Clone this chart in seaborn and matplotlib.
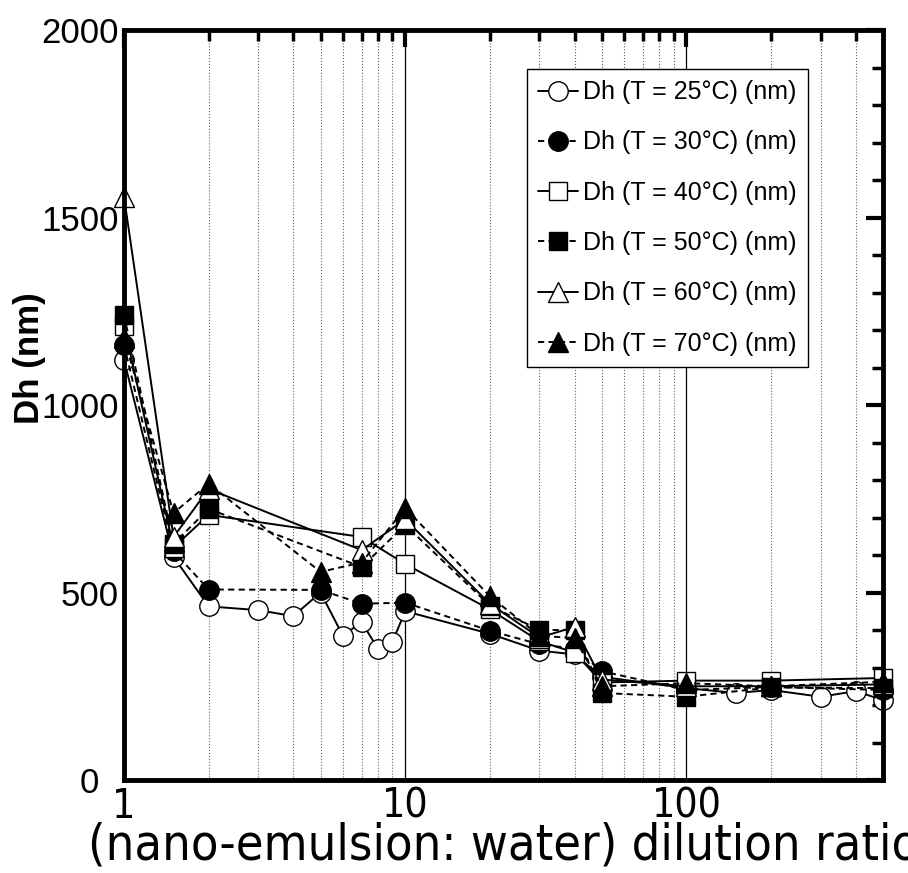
import matplotlib
matplotlib.use("Agg")
import matplotlib.pyplot as plt
import matplotlib.ticker as mticker
from matplotlib import font_manager
from matplotlib.font_manager import FontProperties
import seaborn as sns

# ---- data ----
x_25 = [1, 1.5, 2, 3, 4, 5, 6, 7, 8, 9, 10, 20, 30, 40, 50, 100, 150, 200, 300, 400, 500]
dh_25 = [1120, 595, 463, 453, 437, 500, 385, 421, 350, 368, 450, 390, 345, 335, 275, 245, 232, 240, 222, 237, 213]

x_30 = [1, 1.5, 2, 5, 7, 10, 20, 30, 40, 50, 100, 200, 500]
dh_30 = [1160, 610, 508, 507, 470, 473, 398, 362, 350, 290, 240, 248, 240]

x_40 = [1, 1.5, 2, 7, 10, 20, 30, 40, 50, 100, 200, 500]
dh_40 = [1212, 620, 707, 648, 576, 455, 370, 340, 260, 265, 265, 272]

x_50 = [1, 1.5, 2, 7, 10, 20, 30, 40, 50, 100, 200, 500]
dh_50 = [1240, 630, 723, 568, 680, 465, 400, 400, 232, 222, 247, 245]

x_60 = [1, 1.5, 2, 7, 10, 20, 30, 40, 50, 100, 200, 500]
dh_60 = [1555, 648, 776, 613, 695, 470, 380, 408, 268, 250, 250, 255]

x_70 = [1, 1.5, 2, 5, 7, 10, 20, 30, 40, 50, 100, 200, 500]
dh_70 = [1180, 712, 790, 555, 580, 725, 490, 385, 378, 250, 258, 250, 262]

labels = ["Dh (T = 25°C) (nm)", "Dh (T = 30°C) (nm)", "Dh (T = 40°C) (nm)",
          "Dh (T = 50°C) (nm)", "Dh (T = 60°C) (nm)", "Dh (T = 70°C) (nm)"]

x_ticks = [1, 10, 100]
x_tick_labels = ["1", "10", "100"]
y_ticks = [0, 500, 1000, 1500, 2000]
y_tick_labels = ["0  ", "500", "1000", "1500", "2000"]

x_label = "(nano-emulsion: water) dilution ratio"
y_label = "Dh (nm)"

# ---- style ----
sns.set_theme(style="white")
plt.rcParams["font.family"] = ["Liberation Sans", "DejaVu Sans"]
for k in ["text.color", "axes.labelcolor", "xtick.color", "ytick.color"]:
    plt.rcParams[k] = "black"


def find_narrow(bold=False):
    for f in font_manager.fontManager.ttflist:
        fn = f.fname.lower()
        if (("narrow" in fn or "condensed" in fn) and "sans" in fn and "mono" not in fn
                and "oblique" not in fn and "italic" not in fn and "serif" not in fn):
            if ("bold" in fn) == bold:
                return f.fname
    return None


nf = find_narrow(False)
narrow_fp = FontProperties(fname=nf) if nf else FontProperties(family="Liberation Sans")

fig = plt.figure(figsize=(9.08, 8.73), dpi=100)
ax = fig.add_axes([124 / 908, 1 - 780 / 873, 759 / 908, 750 / 873])

dash = (0, (3.2, 2.2))
specs = [
    (x_25, dh_25, "o", "white", "-", 14),
    (x_30, dh_30, "o", "black", dash, 14),
    (x_40, dh_40, "s", "white", "-", 13),
    (x_50, dh_50, "s", "black", dash, 13),
    (x_60, dh_60, "^", "white", "-", 15),
    (x_70, dh_70, "^", "black", dash, 15),
]
for (xs, ys, mk, fc, ls, ms), lab in zip(specs, labels):
    sns.lineplot(x=xs, y=ys, ax=ax, color="black", linestyle=ls, linewidth=1.4,
                 marker=mk, markersize=ms, markerfacecolor=fc,
                 markeredgecolor="black", markeredgewidth=1.0,
                 label=lab, clip_on=False, legend=False)

ax.set_xscale("log")
ax.set_xlim(1, 500)
ax.set_ylim(0, 2000)

ax.xaxis.set_major_locator(mticker.FixedLocator(x_ticks))
ax.xaxis.set_major_formatter(mticker.FixedFormatter(x_tick_labels))
ax.xaxis.set_minor_locator(mticker.LogLocator(base=10, subs=range(2, 10), numticks=20))
ax.xaxis.set_minor_formatter(mticker.NullFormatter())
ax.yaxis.set_major_locator(mticker.FixedLocator(y_ticks))
ax.yaxis.set_major_formatter(mticker.FixedFormatter(y_tick_labels))
ax.yaxis.set_minor_locator(mticker.MultipleLocator(100))

ax.set_axisbelow(True)
ax.grid(which="minor", axis="x", linestyle=":", color="0.4", linewidth=0.8)
ax.grid(which="major", axis="x", linestyle="-", color="black", linewidth=0.9)
ax.grid(which="both", axis="y", visible=False)

for sp in ax.spines.values():
    sp.set_linewidth(3.5)
    sp.set_color("black")

ax.tick_params(which="both", direction="in", top=True, right=True, color="black")
ax.tick_params(which="major", length=12, width=3)
ax.tick_params(which="minor", length=8, width=2.5)
ax.tick_params(axis="y", labelsize=25, pad=4)
ax.tick_params(axis="x", labelsize=30, pad=5)
for t in ax.get_xticklabels():
    t.set_fontproperties(narrow_fp)
    t.set_fontsize(30)

xl = ax.set_xlabel(x_label, fontproperties=narrow_fp, fontsize=40, labelpad=-4)
ax.set_ylabel("")
yl = fig.text(30 / 908, 1 - 358 / 873, y_label, rotation=90, ha="center", va="center",
              fontsize=25, fontweight="bold")

leg = ax.legend(loc="upper left", bbox_to_anchor=(527 / 908, 1 - 69 / 873),
                bbox_transform=fig.transFigure, borderaxespad=0,
                frameon=True, fancybox=False, framealpha=1, edgecolor="black",
                fontsize=18, handlelength=1.6, handletextpad=0.2,
                labelspacing=1.05, borderpad=0.45)
leg.get_frame().set_linewidth(1.0)

# fit text sizes to the widths measured on the reference
fig.canvas.draw()
r = fig.canvas.get_renderer()
w = xl.get_window_extent(r).width
xl.set_fontsize(xl.get_fontsize() * 830 / w)
lab100 = [t for t in ax.get_xticklabels() if t.get_text() == "100"][0]
w100 = lab100.get_window_extent(r).width
new_sz = lab100.get_fontsize() * 70 / w100
for t in ax.get_xticklabels():
    t.set_fontsize(new_sz)
wy = yl.get_window_extent(r).height
yl.set_fontsize(yl.get_fontsize() * 132 / wy)

fig.savefig("out.png", dpi=100, facecolor="white")
